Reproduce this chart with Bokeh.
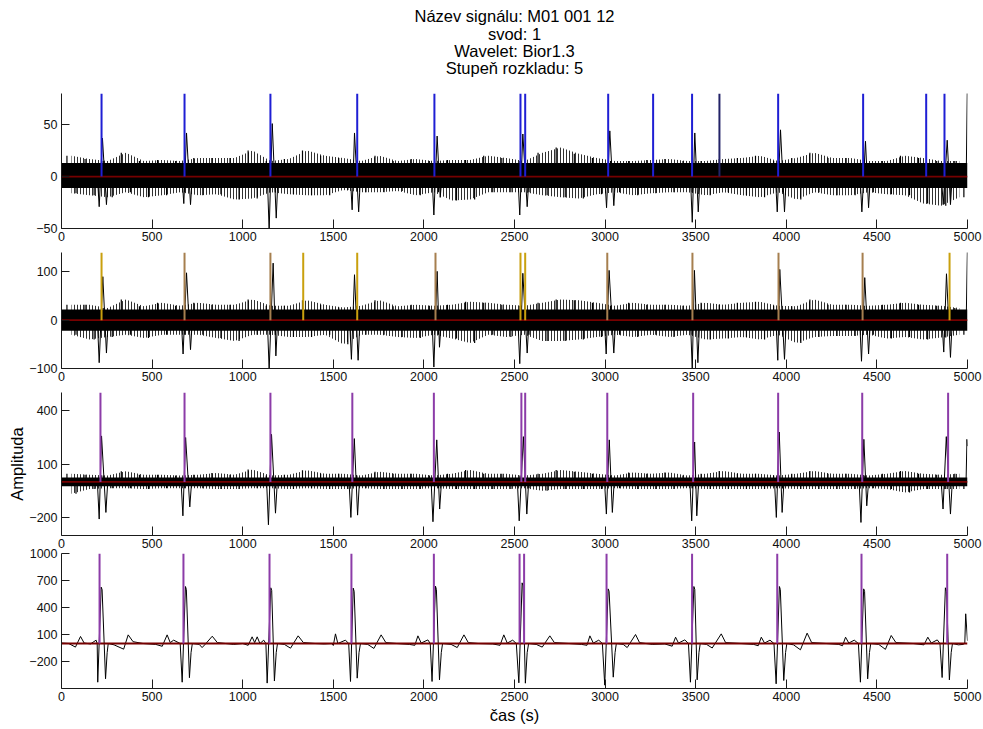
import numpy as np
from bokeh.plotting import figure
from bokeh.layouts import column
from bokeh.models import Range1d, FixedTicker, Label
from bokeh.embed import file_html
from bokeh.resources import INLINE

# ---------------------------------------------------------------- data
TITLE_LINES = ["Název signálu: M01 001 12", "svod: 1", "Wavelet: Bior1.3", "Stupeň rozkladu: 5"]
X_LABEL = "čas (s)"
Y_LABEL = "Amplituda"
X_LIM = [0, 5000]
X_TICKS = [0, 500, 1000, 1500, 2000, 2500, 3000, 3500, 4000, 4500, 5000]
NOISE_WINDOW = 100          # samples per read noise extreme (max / min)

# panel 1 (detail level 1)
Y_LIM_1 = [-50, 80]
Y_TICKS_1 = [-50, 0, 50]
THRESH_1 = 0
CORE_1 = [-11, 13]
PEAKS_1 = [221, 679, 1153, 1632, 2058, 2533, 2559, 3017, 3265, 3480, 3631, 3955, 4424, 4772, 4873]
PEAK_SET_1 = ["a", "a", "a", "a", "a", "a", "a", "a", "a", "a", "b", "a", "a", "a", "a"]
NOISE_MAX_1 = [20, 17, 15, 23, 15, 16, 15, 18, 18, 18, 25, 15, 17, 25, 20, 18, 15, 20, 15, 17,
               15, 16, 16, 20, 18, 15, 23, 28, 22, 18, 15, 15, 16, 17, 15, 15, 17, 18, 20, 15,
               18, 23, 18, 18, 15, 15, 20, 18, 15, 15]
NOISE_MIN_1 = [-16, -18, -20, -15, -20, -18, -15, -18, -17, -22, -21, -15, -17, -18, -18, -13, -15, -15, -14, -18,
               -15, -23, -22, -15, -15, -15, -18, -20, -21, -17, -15, -18, -16, -15, -15, -18, -15, -18, -20, -15,
               -22, -15, -18, -18, -15, -17, -18, -26, -28, -20]
QRS_X_1 = [[198, 208, 226, 248, 258], [665, 675, 690, 712, 722], [1136, 1146, 1163, 1185, 1195],
           [1594, 1604, 1617, 1640, 1650], [2045, 2055, 2073, 2090, 2100], [2519, 2529, 2546, 2570, 2580],
           [2998, 3008, 3026, 3048, 3058], [3471, 3481, 3495, 3514, 3524], [3940, 3950, 3968, 3990, 4000],
           [4407, 4417, 4437, 4454, 4464], [4856, 4866, 4888, 4906, 4916], [4993, 5000]]
QRS_Y_1 = [[0, -29, 37, -27, 0], [0, -26, 42, -27, 0], [0, -52, 51, -40, 0],
           [0, -32, 42, -34, 0], [0, -37, 39, -20, 0], [0, -37, 41, -29, 0],
           [0, -30, 44, -28, 0], [0, -44, 42, -34, 0], [0, -34, 45, -34, 0],
           [0, -34, 34, -30, 0], [0, -27, 35, -27, 0], [0, 100]]

# panel 2 (detail level 2)
Y_LIM_2 = [-100, 140]
Y_TICKS_2 = [-100, 0, 100]
THRESH_2 = 0
CORE_2 = [-22, 22]
PEAKS_2 = [221, 679, 1153, 1334, 1632, 2064, 2533, 2559, 3012, 3482, 3957, 4421, 4901]
PEAK_SET_2 = ["a", "b", "b", "a", "a", "b", "a", "a", "b", "b", "b", "b", "a"]
NOISE_MAX_2 = [32, 32, 25, 43, 29, 36, 30, 36, 32, 32, 43, 30, 30, 41, 32, 26, 30, 41, 29, 32,
               30, 32, 38, 36, 32, 30, 36, 43, 41, 36, 30, 36, 32, 32, 30, 36, 32, 36, 38, 30,
               29, 43, 32, 32, 30, 32, 36, 32, 30, 25]
NOISE_MIN_2 = [-30, -40, -35, -30, -37, -30, -30, -30, -37, -43, -30, -30, -35, -35, -30, -50, -30, -30, -35, -37,
               -30, -38, -47, -30, -35, -30, -43, -43, -40, -35, -30, -35, -30, -35, -30, -40, -38, -35, -40, -30,
               -47, -35, -33, -33, -30, -38, -35, -40, -36, -30]
QRS_X_2 = [[198, 208, 228, 248, 258], [661, 671, 690, 712, 722], [1136, 1146, 1168, 1183, 1193],
           [1590, 1600, 1617, 1637, 1647], [2045, 2055, 2073, 2086, 2096], [2519, 2529, 2546, 2570, 2580],
           [2996, 3006, 3022, 3048, 3058], [3471, 3481, 3493, 3512, 3522], [3943, 3953, 3964, 3990, 4000],
           [4405, 4415, 4433, 4454, 4464], [4859, 4869, 4884, 4906, 4916], [4993, 5000]]
QRS_Y_2 = [[0, -88, 90, -68, 0], [0, -70, 98, -61, 0], [0, -102, 118, -74, 0],
           [0, -81, 94, -83, 0], [0, -97, 101, -56, 0], [0, -90, 97, -68, 0],
           [0, -70, 103, -68, 0], [0, -102, 103, -88, 0], [0, -83, 105, -81, 0],
           [0, -85, 88, -70, 0], [0, -66, 96, -77, 0], [0, 160]]

# panel 3 (detail level 3)
Y_LIM_3 = [-300, 500]
Y_TICKS_3 = [-200, 100, 400]
THRESH_3 = 0
CORE_3 = [-25, 25]
PEAKS_3 = [215, 679, 1153, 1605, 2055, 2538, 2559, 3012, 3486, 3955, 4419, 4893]
NOISE_MAX_3 = [45, 40, 35, 60, 40, 40, 35, 40, 50, 40, 69, 35, 40, 65, 45, 45, 35, 56, 45, 45,
               35, 45, 67, 45, 45, 35, 45, 67, 56, 45, 35, 52, 45, 52, 35, 45, 61, 45, 45, 35,
               45, 61, 45, 45, 35, 45, 61, 45, 40, 45]
NOISE_MIN_3 = [-67, -40, -35, -35, -40, -35, -35, -35, -40, -40, -35, -35, -40, -35, -40, -40, -35, -40, -40, -40,
               -35, -40, -40, -40, -40, -35, -50, -40, -40, -40, -35, -40, -40, -40, -35, -40, -40, -40, -40, -35,
               -40, -40, -40, -40, -35, -40, -60, -40, -40, -40]
QRS_X_3 = [[198, 208, 221, 245, 255], [660, 670, 685, 708, 718], [1132, 1142, 1159, 1181, 1191],
           [1587, 1597, 1616, 1634, 1644], [2040, 2050, 2071, 2087, 2097], [2516, 2526, 2549, 2568, 2578],
           [2997, 3007, 3023, 3040, 3050], [3468, 3478, 3494, 3506, 3516], [3935, 3945, 3961, 3977, 3987],
           [4402, 4412, 4428, 4444, 4454], [4855, 4865, 4883, 4906, 4916], [4992, 4997, 5000]]
QRS_Y_3 = [[0, -208, 257, -171, 0], [0, -190, 248, -140, 0], [0, -240, 266, -175, 0],
           [0, -199, 242, -186, 0], [0, -223, 235, -152, 0], [0, -218, 253, -180, 0],
           [0, -180, 235, -171, 0], [0, -218, 223, -190, 0], [0, -199, 279, -171, 0],
           [0, -227, 238, -134, 0], [0, -152, 253, -180, 0], [0, 238, 200]]

# panel 4 (detail level 5) - smooth signal read point by point
Y_LIM_4 = [-500, 1000]
Y_TICKS_4 = [-200, 100, 400, 700, 1000]
THRESH_4 = 0
PEAKS_4 = [210, 673, 1148, 1600, 2055, 2528, 2553, 3008, 3480, 3950, 4415, 4888]
SIG_X_4 = [0, 40, 77, 105, 125, 160, 191, 197, 200, 219, 224, 243, 252, 258,
           290, 343, 368, 395, 450, 520, 556, 583, 600, 619, 655,
           666, 684, 689, 706, 715, 722, 760, 776, 795, 832, 860, 950, 1000, 1030, 1052, 1066, 1080, 1095, 1116, 1128,
           1135, 1155, 1160, 1175, 1185, 1192, 1230, 1264, 1306, 1335, 1400, 1450, 1490, 1500, 1512, 1525, 1567, 1585,
           1595, 1610, 1615, 1632, 1642, 1650, 1690, 1724, 1764, 1790, 1850, 1920, 1950, 1967, 1985, 2022, 2035,
           2045, 2064, 2069, 2086, 2096, 2103, 2150, 2184, 2221, 2245, 2300, 2380, 2420, 2441, 2460, 2490, 2510,
           2524, 2542, 2547, 2560, 2570, 2578, 2620, 2653, 2695, 2720, 2800, 2870, 2900, 2916, 2935, 2965, 2985,
           2998, 3017, 3022, 3045, 3055, 3062, 3100, 3122, 3168, 3190, 3260, 3330, 3370, 3389, 3405, 3440, 3460,
           3471, 3490, 3495, 3508, 3518, 3525, 3560, 3591, 3641, 3665, 3750, 3820, 3845, 3862, 3880, 3910, 3932,
           3944, 3962, 3967, 3986, 3996, 4003, 4040, 4078, 4115, 4140, 4220, 4290, 4310, 4327, 4345, 4375, 4398,
           4409, 4427, 4432, 4449, 4459, 4466, 4510, 4547, 4579, 4605, 4700, 4760, 4781, 4800, 4833, 4848,
           4860, 4878, 4884, 4900, 4910, 4917, 4950, 4975, 4985, 4990, 5000]
SIG_Y_4 = [5, 0, -40, 78, 5, -5, 37, 0, -430, 626, 600, -392, -100, 0,
           -15, -63, 96, 20, 0, -10, -31, 96, 10, 37, 0,
           -430, 633, 600, -380, -100, 0, -10, -45, -5, 81, 10, -10, 0, -20, 74, 10, 74, 0, 37, 0,
           -440, 619, 590, -417, -100, 0, -10, -52, 85, 10, 0, -5, 0, -22, 107, 0, 37, 0,
           -422, 615, 580, -385, -100, 0, -10, -55, 96, 10, 0, -10, -20, 85, 5, 40, 0,
           -422, 637, 600, -404, -100, 0, -10, -45, 96, 10, 0, -5, -20, 96, 5, 37, 0,
           -437, 674, 640, -441, -100, 0, -10, -40, 85, 10, 0, -10, -20, 85, 5, 37, 0,
           -463, 607, 580, -374, -100, 0, -10, -45, 100, 10, -10, -5, -30, 70, 5, 40, 0,
           -430, 633, 600, -404, -100, 0, -10, -50, 107, 10, 0, -10, -25, 70, 5, 37, 0,
           -448, 633, 600, -411, -100, 0, -15, -70, 115, 10, 0, -10, -25, 70, 5, 37, 0,
           -430, 607, 580, -393, -100, 0, -10, -65, 89, 10, 0, -15, 70, 5, 40, 0,
           -378, 619, 580, -404, -100, 0, -15, -10, 0, 330, 30]

# ---------------------------------------------------------------- style / layout
FONT = "Liberation Sans"
TICK_FONT = "12.5px"
LABEL_FONT = "16.5px"
TITLE_FONT = "16.5px"
AXIS_COLOR = "#1a1a1a"
SIG_COLOR = "black"
THRESH_COLOR = "#760000"
PEAK_COLORS_1 = {"a": "#1f1fd4", "b": "#232368"}
PEAK_COLORS_2 = {"a": "#c9a00e", "b": "#a67f4f"}
PEAK_COLOR_34 = "#8c3ca8"

FRAME_W = 906
BORDER_L = 61
BORDER_R = 16
TITLE_H = 85
TITLE_PAGE_Y = [15, 33, 50, 67]
FRAME_TOP = [93, 252, 392, 553]     # page y of each plot frame top
FRAME_H = [135, 116, 143, 135]
BORDERS = [(8, 19, 0), (5, 18, 0), (6, 18, 0), (7, 40, -7)]   # top, bottom, css margin-top


def make_panel(i, ylim, yticks):
    bt, bb, mt = BORDERS[i]
    p = figure(frame_width=FRAME_W, frame_height=FRAME_H[i],
               x_range=Range1d(*X_LIM), y_range=Range1d(*ylim),
               output_backend="svg", toolbar_location=None,
               min_border_left=BORDER_L, min_border_right=BORDER_R,
               min_border_top=bt, min_border_bottom=bb)
    if mt:
        p.margin = (mt, 0, 0, 0)
        p.border_fill_color = None
    p.outline_line_color = None
    p.xgrid.visible = False
    p.ygrid.visible = False
    p.xaxis.ticker = FixedTicker(ticks=X_TICKS)
    p.yaxis.ticker = FixedTicker(ticks=yticks)
    for ax, tin in ((p.xaxis, 9), (p.yaxis, 8)):
        ax.major_tick_in = tin
        ax.major_tick_out = 0
        ax.minor_tick_in = 0
        ax.minor_tick_out = 0
        ax.axis_line_color = AXIS_COLOR
        ax.major_tick_line_color = AXIS_COLOR
        ax.major_label_text_font = FONT
        ax.major_label_text_font_size = TICK_FONT
        ax.major_label_text_color = "#111111"
        ax.axis_label_text_font = FONT
        ax.axis_label_text_font_size = LABEL_FONT
        ax.axis_label_text_font_style = "normal"
        ax.axis_label_text_color = "black"
    p.xaxis.major_label_standoff = 3
    p.yaxis.major_label_standoff = 4
    return p


def draw_noise(p, core, nmax, nmin):
    p.varea(x=X_LIM, y1=[core[0]] * 2, y2=[core[1]] * 2, fill_color=SIG_COLOR)
    starts = np.arange(len(nmax)) * NOISE_WINDOW
    up_x = starts + NOISE_WINDOW * 0.3
    dn_x = starts + NOISE_WINDOW * 0.8
    mid_x = starts + NOISE_WINDOW * 0.55
    p.varea(x=mid_x, y1=nmin, y2=nmax, fill_alpha=0, hatch_pattern="|",
            hatch_color=SIG_COLOR, hatch_scale=3, hatch_weight=0.9, hatch_alpha=0.9)
    p.segment(x0=up_x, y0=[0] * len(nmax), x1=up_x, y1=nmax, line_color=SIG_COLOR, line_width=1.2)
    p.segment(x0=dn_x, y0=[0] * len(nmin), x1=dn_x, y1=nmin, line_color=SIG_COLOR, line_width=1.2)


def draw_common(p, thresh, ylim, peaks, colors):
    p.line(X_LIM, [thresh, thresh], line_color=THRESH_COLOR, line_width=1.8)
    p.segment(x0=peaks, y0=[thresh] * len(peaks), x1=peaks, y1=[ylim[1]] * len(peaks),
              line_color=colors, line_width=2)


# title block
pt = figure(frame_width=FRAME_W, frame_height=TITLE_H, x_range=Range1d(*X_LIM), y_range=Range1d(0, TITLE_H),
            output_backend="svg", toolbar_location=None, x_axis_location=None, y_axis_location=None,
            min_border_left=BORDER_L, min_border_right=BORDER_R, min_border_top=0, min_border_bottom=0)
pt.outline_line_color = None
pt.grid.visible = False
for py, txt in zip(TITLE_PAGE_Y, TITLE_LINES):
    pt.add_layout(Label(x=sum(X_LIM) / 2, y=TITLE_H - py, text=txt,
                        text_align="center", text_baseline="middle",
                        text_font=FONT, text_font_size=TITLE_FONT, text_color="black"))

p1 = make_panel(0, Y_LIM_1, Y_TICKS_1)
draw_noise(p1, CORE_1, NOISE_MAX_1, NOISE_MIN_1)
p1.multi_line(xs=QRS_X_1, ys=QRS_Y_1, line_color=SIG_COLOR, line_width=1)
draw_common(p1, THRESH_1, Y_LIM_1, PEAKS_1, [PEAK_COLORS_1[k] for k in PEAK_SET_1])

p2 = make_panel(1, Y_LIM_2, Y_TICKS_2)
draw_noise(p2, CORE_2, NOISE_MAX_2, NOISE_MIN_2)
p2.multi_line(xs=QRS_X_2, ys=QRS_Y_2, line_color=SIG_COLOR, line_width=1)
draw_common(p2, THRESH_2, Y_LIM_2, PEAKS_2, [PEAK_COLORS_2[k] for k in PEAK_SET_2])

p3 = make_panel(2, Y_LIM_3, Y_TICKS_3)
draw_noise(p3, CORE_3, NOISE_MAX_3, NOISE_MIN_3)
p3.multi_line(xs=QRS_X_3, ys=QRS_Y_3, line_color=SIG_COLOR, line_width=1)
draw_common(p3, THRESH_3, Y_LIM_3, PEAKS_3, [PEAK_COLOR_34] * len(PEAKS_3))
p3.yaxis.axis_label = Y_LABEL
p3.yaxis.axis_label_standoff = 0

p4 = make_panel(3, Y_LIM_4, Y_TICKS_4)
p4.line(SIG_X_4, SIG_Y_4, line_color=SIG_COLOR, line_width=1)
draw_common(p4, THRESH_4, Y_LIM_4, PEAKS_4, [PEAK_COLOR_34] * len(PEAKS_4))
p4.xaxis.axis_label = X_LABEL
p4.xaxis.axis_label_standoff = 2

layout = column(pt, p1, p2, p3, p4, spacing=0)
open("out.html", "w").write(file_html(layout, INLINE))
